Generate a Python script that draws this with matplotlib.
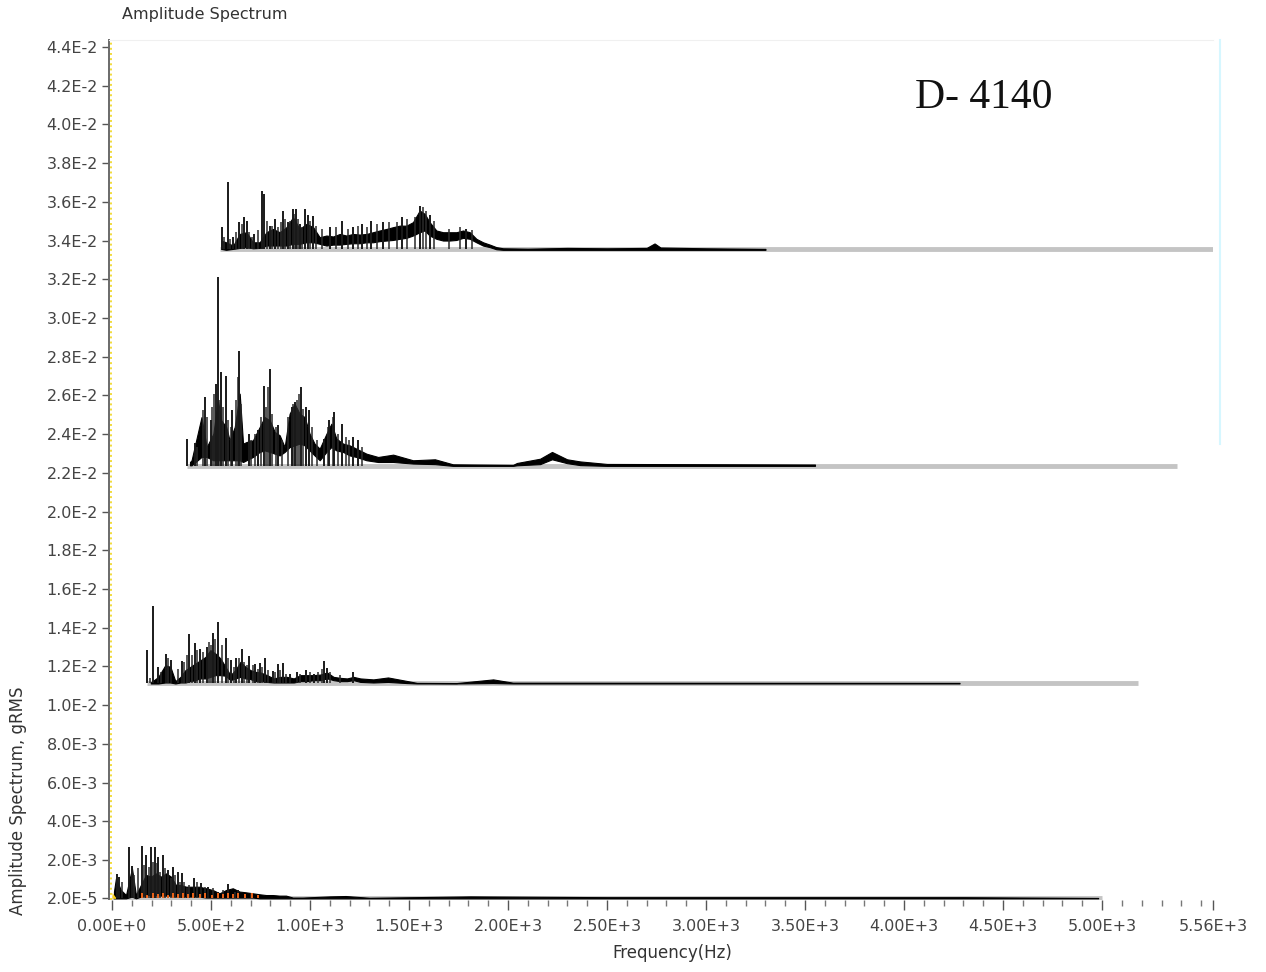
import numpy as np
import matplotlib
matplotlib.use("Agg")
import matplotlib.pyplot as plt
from matplotlib.ticker import MultipleLocator

# ---- data (Hz, gRMS) ----
# top trace
base4 = 0.03355
f4 = [551, 576, 612, 645, 679, 712, 746, 780, 813, 847, 881, 914, 948, 982, 1016, 1049, 1083,
      1117, 1150, 1184, 1217, 1251, 1285, 1318, 1352, 1386, 1419, 1453, 1487, 1520, 1554, 1579,
      1604, 1638, 1672, 1705, 1739, 1773, 1807, 1840, 1874, 1908, 1941, 1975, 2042,
      2100, 2300, 2500, 2700, 2740, 2770, 3000, 3300]
hi4 = [0.03400, 0.03391, 0.03374, 0.03434, 0.03443, 0.03391, 0.03391, 0.03443, 0.03460, 0.03443,
       0.03469, 0.03520, 0.03460, 0.03486, 0.03469, 0.03417, 0.03426, 0.03421, 0.03434, 0.03426,
       0.03434, 0.03431, 0.03434, 0.03443, 0.03452, 0.03460, 0.03469, 0.03477, 0.03477, 0.03495,
       0.03555, 0.03538, 0.03495, 0.03452, 0.03443, 0.03443, 0.03443, 0.03452, 0.03443, 0.03409,
       0.03391, 0.03379, 0.03366, 0.03360, 0.03359,
       0.03358, 0.03362, 0.03360, 0.03362, 0.03385, 0.03364, 0.03360, 0.03357]
lo4 = [0.03357, 0.03352, 0.03357, 0.03362, 0.03366, 0.03360, 0.03362, 0.03374, 0.03374, 0.03374,
       0.03374, 0.03383, 0.03383, 0.03391, 0.03391, 0.03383, 0.03374, 0.03379, 0.03379, 0.03383,
       0.03386, 0.03386, 0.03391, 0.03391, 0.03397, 0.03400, 0.03403, 0.03409, 0.03414, 0.03426,
       0.03443, 0.03452, 0.03426, 0.03409, 0.03400, 0.03400, 0.03403, 0.03414, 0.03409, 0.03391,
       0.03374, 0.03366, 0.03355, 0.03352, 0.03352,
       0.03352, 0.03352, 0.03352, 0.03352, 0.03352, 0.03352, 0.03352, 0.03352]
spk4_f = [557, 587, 612, 643, 667, 680, 717, 759, 769, 798, 823, 865, 891, 912, 929, 949, 975,
          992, 1017, 1101, 1163, 1219, 1261, 1306, 1369, 1463, 1557, 1604, 1790]
spk4_a = [0.03469, 0.03701, 0.03417, 0.03494, 0.03520, 0.03503, 0.03434, 0.03658, 0.03641,
          0.03477, 0.03512, 0.03555, 0.03494, 0.03564, 0.03564, 0.03486, 0.03564, 0.03530,
          0.03529, 0.03469, 0.03500, 0.03469, 0.03483, 0.03503, 0.03494, 0.03520, 0.03581,
          0.03530, 0.03460]
minor4_f = [565, 595, 625, 655, 690, 705, 735, 785, 810, 840, 855, 875, 900, 920, 940, 960, 1000,
            1030, 1060, 1130, 1190, 1240, 1290, 1340, 1400, 1440, 1490, 1530, 1570, 1585, 1625,
            1700, 1760, 1820]
minor4_a = [0.03417, 0.03409, 0.03443, 0.03486, 0.03443, 0.03417, 0.03452, 0.03503, 0.03477,
            0.03469, 0.03494, 0.03512, 0.03503, 0.03538, 0.03512, 0.03469, 0.03503, 0.03477,
            0.03460, 0.03469, 0.03460, 0.03477, 0.03469, 0.03486, 0.03494, 0.03494, 0.03512,
            0.03520, 0.03572, 0.03555, 0.03503, 0.03460, 0.03469, 0.03452]
span4 = [545, 5560]

# second trace
base3 = 0.02236
f3 = [394, 402, 452, 478, 512, 535, 552, 577, 594, 620, 645, 662, 679, 712, 746, 771, 797, 822,
      847, 872, 897, 922, 948, 973, 998, 1023, 1049, 1083, 1108, 1133, 1167, 1200, 1234, 1285, 1344,
      1420, 1520, 1631, 1722, 2025, 2045, 2162, 2222, 2298, 2364, 2500, 3550]
hi3 = [0.02256, 0.02265, 0.02488, 0.02333, 0.02402, 0.02574, 0.02471, 0.02437, 0.02368, 0.02437,
       0.02609, 0.02351, 0.02359, 0.02368, 0.02437, 0.02488, 0.02471, 0.02411, 0.02394, 0.02333,
       0.02505, 0.02557, 0.02505, 0.02488, 0.02402, 0.02351, 0.02325, 0.02402, 0.02454, 0.02377,
       0.02351, 0.02342, 0.02325, 0.02299, 0.02282,
       0.02294, 0.02265, 0.02270, 0.02244, 0.02241, 0.02251, 0.02273, 0.02308, 0.02270, 0.02259,
       0.02246, 0.02243]
lo3 = [0.02239, 0.02239, 0.02282, 0.02282, 0.02265, 0.02265, 0.02265, 0.02265, 0.02265, 0.02265,
       0.02265, 0.02256, 0.02265, 0.02282, 0.02308, 0.02316, 0.02308, 0.02299, 0.02290, 0.02308,
       0.02333, 0.02342, 0.02351, 0.02342, 0.02316, 0.02290, 0.02265, 0.02308, 0.02333, 0.02316,
       0.02308, 0.02290, 0.02282, 0.02265, 0.02256,
       0.02256, 0.02248, 0.02245, 0.02236, 0.02236, 0.02239, 0.02245, 0.02270, 0.02250, 0.02240,
       0.02236, 0.02236]
spk3_f = [377, 419, 470, 498, 524, 534, 549, 574, 608, 641, 692, 739, 769, 798, 840, 907, 924,
          953, 980, 995, 1071, 1098, 1123, 1160, 1219, 1244]
spk3_a = [0.02376, 0.02354, 0.02591, 0.02471, 0.02660, 0.03211, 0.02720, 0.02698, 0.02523,
          0.02832, 0.02402, 0.02419, 0.02647, 0.02738, 0.02445, 0.02540, 0.02566, 0.02643,
          0.02540, 0.02523, 0.02376, 0.02471, 0.02514, 0.02454, 0.02385, 0.02368]
minor3_f = [430, 460, 480, 505, 515, 541, 560, 585, 600, 625, 635, 652, 700, 720, 755, 780, 790,
            810, 830, 860, 890, 915, 935, 945, 965, 1010, 1035, 1090, 1115, 1140, 1180, 1195, 1265]
minor3_a = [0.02333, 0.02523, 0.02488, 0.02540, 0.02609, 0.02574, 0.02540, 0.02471, 0.02437,
            0.02574, 0.02694, 0.02557, 0.02368, 0.02402, 0.02488, 0.02540, 0.02643, 0.02505,
            0.02437, 0.02368, 0.02488, 0.02557, 0.02574, 0.02609, 0.02531, 0.02437, 0.02368,
            0.02437, 0.02488, 0.02402, 0.02385, 0.02368, 0.02333]
span3 = [377, 5379]

# third trace
base2 = 0.01112
f2 = [196, 234, 269, 295, 320, 346, 371, 396, 421, 447, 472, 497, 522, 548, 573, 598, 623, 649,
      674, 699, 724, 750, 783, 817, 850, 884, 918, 951, 985, 1018, 1052, 1086, 1119, 1153, 1187,
      1220, 1254, 1320, 1394, 1489, 1540, 1740, 1925, 2025, 4280]
hi2 = [0.01117, 0.01146, 0.01206, 0.01198, 0.01124, 0.01146, 0.01181, 0.01198, 0.01215, 0.01232,
       0.01249, 0.01284, 0.01267, 0.01241, 0.01198, 0.01155, 0.01181, 0.01224, 0.01198, 0.01181,
       0.01172, 0.01169, 0.01155, 0.01138, 0.01146, 0.01146, 0.01138, 0.01155, 0.01155, 0.01155,
       0.01158, 0.01169, 0.01146, 0.01141, 0.01138, 0.01146, 0.01138,
       0.01133, 0.01143, 0.01125, 0.01115, 0.01114, 0.01133, 0.01116, 0.01115]
lo2 = [0.01112, 0.01112, 0.01117, 0.01117, 0.01112, 0.01117, 0.01117, 0.01124, 0.01129, 0.01138,
       0.01138, 0.01146, 0.01155, 0.01155, 0.01152, 0.01129, 0.01138, 0.01146, 0.01138, 0.01134,
       0.01124, 0.01124, 0.01120, 0.01117, 0.01117, 0.01117, 0.01117, 0.01124, 0.01124, 0.01129,
       0.01129, 0.01138, 0.01129, 0.01124, 0.01124, 0.01129, 0.01120,
       0.01117, 0.01120, 0.01114, 0.01112, 0.01112, 0.01114, 0.01112, 0.01112]
spk2_f = [178, 209, 234, 273, 296, 352, 391, 419, 444, 478, 508, 537, 576, 599, 626, 655, 694,
          720, 745, 774, 811, 836, 863, 900, 934, 979, 1018, 1072, 1087, 1219]
spk2_a = [0.01284, 0.01511, 0.01198, 0.01262, 0.01232, 0.01227, 0.01365, 0.01322, 0.01292,
          0.01301, 0.01375, 0.01430, 0.01348, 0.01232, 0.01244, 0.01292, 0.01255, 0.01215,
          0.01219, 0.01244, 0.01177, 0.01215, 0.01219, 0.01163, 0.01169, 0.01181, 0.01163,
          0.01227, 0.01193, 0.01172]
minor2_f = [190, 250, 285, 335, 365, 380, 405, 430, 460, 490, 500, 520, 555, 585, 615, 640, 665,
            680, 710, 735, 760, 790, 825, 850, 880, 950, 1000, 1040, 1060, 1100, 1150]
minor2_a = [0.01138, 0.01172, 0.01241, 0.01189, 0.01224, 0.01258, 0.01258, 0.01284, 0.01275,
            0.01327, 0.01310, 0.01344, 0.01310, 0.01241, 0.01198, 0.01241, 0.01224, 0.01206,
            0.01206, 0.01189, 0.01198, 0.01181, 0.01172, 0.01181, 0.01163, 0.01163, 0.01172,
            0.01172, 0.01189, 0.01172, 0.01155]
span2 = [178, 5180]

# bottom trace
base1 = 0.00002
f1 = [10, 20, 45, 71, 101, 121, 146, 172, 197, 222, 247, 273, 298, 323, 348, 374, 408, 441, 475,
      509, 543, 576, 610, 644, 677, 711, 745, 778, 812, 846, 879, 913, 963,
      1100, 1180, 1300, 1810, 2500, 3200, 4300, 4980]
hi1 = [0.00037, 0.00105, 0.00045, 0.00019, 0.00157, 0.00019, 0.00071, 0.00123, 0.00114, 0.00131,
       0.00114, 0.00131, 0.00114, 0.00071, 0.00071, 0.00062, 0.00062, 0.00062, 0.00054, 0.00045,
       0.00028, 0.00045, 0.00054, 0.00037, 0.00033, 0.00028, 0.00023, 0.00019, 0.00019, 0.00016,
       0.00016, 0.00006, 0.00006,
       0.00012, 0.00014, 0.00005, 0.00012, 0.00008, 0.00008, 0.00008, 0.00004]
lo1 = [0.00002, 0.00002, 0.00002, 0.00002, 0.00011, 0.00002, 0.00011, 0.00019, 0.00019, 0.00019,
       0.00016, 0.00016, 0.00016, 0.00011, 0.00011, 0.00011, 0.00011, 0.00011, 0.00006, 0.00006,
       0.00006, 0.00006, 0.00006, 0.00006, 0.00006, 0.00006, 0.00002, 0.00002, 0.00002, 0.00002,
       0.00002, 0.00002, 0.00002,
       0.00002, 0.00002, 0.00002, 0.00002, 0.00002, 0.00002, 0.00002, 0.00002]
spk1_f = [24, 35, 86, 99, 153, 173, 197, 217, 234, 259, 285, 310, 335, 355, 377, 415, 452, 486,
          537, 587, 638]
spk1_a = [0.00126, 0.00114, 0.00269, 0.00171, 0.00274, 0.00226, 0.00269, 0.00269, 0.00217,
          0.00226, 0.00148, 0.00166, 0.00140, 0.00131, 0.00054, 0.00105, 0.00080, 0.00062,
          0.00037, 0.00074, 0.00045]
minor1_f = [50, 110, 130, 160, 185, 205, 225, 245, 270, 300, 320, 345, 365, 390, 430, 470, 510,
            560, 620, 700]
minor1_a = [0.00088, 0.00123, 0.00157, 0.00174, 0.00166, 0.00191, 0.00183, 0.00140, 0.00157,
            0.00105, 0.00123, 0.00088, 0.00088, 0.00071, 0.00088, 0.00062, 0.00054, 0.00045,
            0.00037, 0.00028]
span1 = [0, 5000]
orange_f = [150, 175, 209, 234, 259, 285, 310, 335, 360, 386, 411, 444, 470, 503, 537, 562, 587,
            613, 638, 672, 705, 739]
orange_a = [0.00028, 0.00019, 0.00028, 0.00023, 0.00028, 0.00019, 0.00028, 0.00023, 0.00028,
            0.00023, 0.00028, 0.00023, 0.00028, 0.00019, 0.00028, 0.00023, 0.00028, 0.00023,
            0.00028, 0.00023, 0.00028, 0.00019]
yellow_f = [0, 8, 18]
yellow_a = [0.00032, 0.00022, 0.00008]

xticks = [0, 500, 1000, 1500, 2000, 2500, 3000, 3500, 4000, 4500, 5000, 5560]
xlabels = ["0.00E+0", "5.00E+2", "1.00E+3", "1.50E+3", "2.00E+3", "2.50E+3", "3.00E+3",
           "3.50E+3", "4.00E+3", "4.50E+3", "5.00E+3", "5.56E+3"]
yticks = [0.00002, 0.002, 0.004, 0.006, 0.008, 0.010, 0.012, 0.014, 0.016, 0.018, 0.020, 0.022,
          0.024, 0.026, 0.028, 0.030, 0.032, 0.034, 0.036, 0.038, 0.040, 0.042, 0.044]
ylabels = ["2.0E-5", "2.0E-3", "4.0E-3", "6.0E-3", "8.0E-3", "1.0E-2", "1.2E-2", "1.4E-2",
           "1.6E-2", "1.8E-2", "2.0E-2", "2.2E-2", "2.4E-2", "2.6E-2", "2.8E-2", "3.0E-2",
           "3.2E-2", "3.4E-2", "3.6E-2", "3.8E-2", "4.0E-2", "4.2E-2", "4.4E-2"]

W, H = 1266, 972
fig = plt.figure(figsize=(W / 100, H / 100), dpi=100)
ax = fig.add_axes([109 / W, 1 - 899.5 / H, (1213 - 109) / W, (899.5 - 40) / H])
ax.set_xlim(-15, 5560)
ax.set_ylim(-0.00004, 0.04436)

traces = [
    (base4, f4, lo4, hi4, spk4_f, spk4_a, minor4_f, minor4_a, span4),
    (base3, f3, lo3, hi3, spk3_f, spk3_a, minor3_f, minor3_a, span3),
    (base2, f2, lo2, hi2, spk2_f, spk2_a, minor2_f, minor2_a, span2),
    (base1, f1, lo1, hi1, spk1_f, spk1_a, minor1_f, minor1_a, span1),
]
for base, f, lo, hi, sf, sa, mf, ma, span in traces:
    ax.plot(span, [base, base], color="#c4c4c4", lw=3.5, solid_capstyle="butt", zorder=1)
    ax.fill_between(f, lo, hi, facecolor="black", edgecolor="black", lw=0.8, zorder=3)
    ax.vlines(mf, base, ma, color="#2a2a2a", lw=1.1, zorder=4)
    ax.vlines(sf, base, sa, color="#1a1a1a", lw=1.4, zorder=4)

ax.vlines(orange_f, base1, orange_a, color="#ff6a1a", lw=1.3, zorder=5)
ax.fill_between(yellow_f, base1, yellow_a, color="#ffd21a", lw=0, zorder=5)

# axes styling
for s in ["right", "bottom"]:
    ax.spines[s].set_visible(False)
ax.spines["top"].set_color("#f0f0f0")
ax.spines["left"].set_color("#6a6a6a")
ax.spines["left"].set_linewidth(1.4)
ax.axvline(-6, color="#f2dc3a", ls=":", lw=1.4, zorder=2)
ax.plot([1.006, 1.006], [0.53, 1.0], transform=ax.transAxes, color="#d6f7ff",
        lw=1.5, clip_on=False)

ax.set_xticks(xticks)
ax.set_xticklabels(xlabels)
ax.xaxis.set_minor_locator(MultipleLocator(100))
ax.set_yticks(yticks)
ax.set_yticklabels(ylabels)
ax.tick_params(axis="x", which="major", length=7, width=1, color="#555555",
               labelsize=11.5, labelcolor="#444444", pad=7)
ax.tick_params(axis="x", which="minor", length=4, width=1, color="#777777")
ax.tick_params(axis="y", which="major", length=5, width=1, color="#555555",
               labelsize=11.5, labelcolor="#444444", pad=3)

fig.text(122 / W, 1 - 15 / H, "Amplitude Spectrum", fontsize=11.5, color="#333333",
         va="center", ha="left")
fig.text(18 / W, 1 - 915 / H, "Amplitude Spectrum, gRMS", fontsize=12, color="#333333",
         rotation=90, va="bottom", ha="center")
fig.text(672 / W, 1 - 953 / H, "Frequency(Hz)", fontsize=12, color="#333333",
         va="center", ha="center")
fig.text(915 / W, 1 - 108 / H, "D- 4140", fontsize=30, color="#111111",
         family="Liberation Serif", va="baseline", ha="left")

fig.savefig("out.png", dpi=100, facecolor="white")
